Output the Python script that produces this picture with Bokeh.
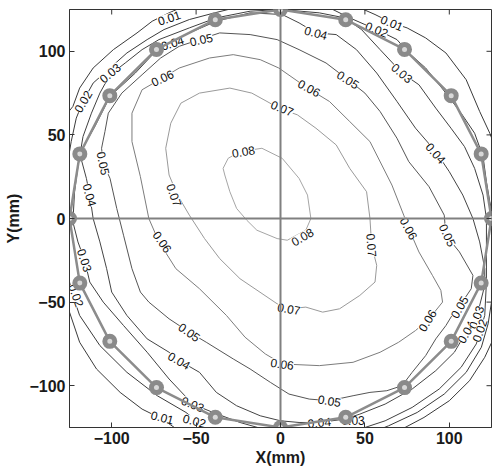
import math
from bokeh.plotting import figure
from bokeh.models import Range1d, FixedTicker
from bokeh.core.properties import value
from bokeh.embed import file_html
from bokeh.resources import INLINE

# ---------------- data ----------------
axis_min, axis_max = -125, 125
x_ticks = [-100, -50, 0, 50, 100]
y_ticks = [-100, -50, 0, 50, 100]

probe_radius = 125
probe_angles_deg = [0, 18, 36, 54, 72, 90, 108, 126, 144, 162,
                    180, 198, 216, 234, 252, 270, 288, 306, 324, 342]

# contour lines (x, y in mm)
c008 = [(-11, 42), (1, 36), (11, 24), (16, 14), (18, 0), (15, -7), (4, -13), (-2, -12),
        (-14, -7), (-20, -1), (-26, 6), (-30, 16), (-33, 26), (-34, 30), (-31, 36),
        (-24, 40), (-11, 42)]
c007 = [(54, -16), (57, -28), (56, -38), (47, -46), (35, -54), (25, -56), (15, -53),
        (5, -54), (-2, -51), (-24, -36), (-36, -24), (-45, -12), (-54, 2), (-61, 14),
        (-66, 26), (-68, 42), (-65, 57), (-59, 69), (-48, 75), (-30, 78), (-17, 75),
        (-8, 70), (-1, 66), (10, 62), (21, 54), (33, 44), (41, 30), (51, 16), (53, 0),
        (54, -16)]
c006 = [(-42, 96), (-28, 98), (-12, 95), (-1, 90), (16, 78), (29, 70), (41, 58), (53, 46),
        (66, 20), (73, 2), (76, -6), (82, -20), (90, -34), (95, -43), (96, -50), (88, -60),
        (80, -67), (70, -74), (59, -80), (43, -86), (23, -88), (1, -87), (-9, -81),
        (-21, -71), (-32, -58), (-48, -42), (-62, -30), (-72, -14), (-78, 0), (-83, 25),
        (-88, 46), (-88, 63), (-82, 77), (-70, 84), (-60, 90), (-42, 96)]
c005 = [(-48, 107), (-36, 111), (-18, 110), (-2, 107), (11, 101), (27, 93), (40, 83),
        (50, 75), (59, 64), (69, 48), (76, 34), (88, 19), (97, 2), (98, -10), (106, -20),
        (114, -34), (113, -42), (109, -48), (104, -54), (98, -64), (92, -72), (86, -82),
        (78, -92), (72, -100), (63, -103), (53, -104), (43, -106), (29, -109), (17, -108),
        (5, -105), (-6, -98), (-18, -90), (-28, -84), (-44, -74), (-54, -68), (-66, -60),
        (-78, -50), (-83, -44), (-88, -30), (-93, -10), (-97, 6), (-101, 24), (-105, 33),
        (-106, 42), (-104, 52), (-102, 63), (-94, 75), (-82, 86), (-71, 96), (-60, 103),
        (-48, 107)]
c004 = [(-119, 39), (-115, 24), (-113, 14), (-111, 0), (-107, -14), (-103, -30),
        (-100, -44), (-91, -58), (-79, -72), (-66, -80), (-60, -85), (-48, -92),
        (-38, -104), (-26, -112), (-12, -118), (0, -121), (11, -122), (23, -122),
        (38, -120), (47, -117), (62, -111), (78, -102), (92, -91), (103, -80), (110, -68),
        (117, -56), (121, -40), (121, -30), (118, -14), (114, 0), (108, 14), (100, 28),
        (92, 40), (80, 54), (69, 70), (57, 87), (45, 101), (33, 110), (21, 111), (11, 117),
        (1, 122), (-18, 123), (-38, 118), (-54, 111), (-67, 105), (-73, 101), (-86, 87),
        (-101, 73), (-110, 55), (-119, 39)]
c003 = [(-10, -126), (-24, -122), (-40, -116), (-52, -111), (-66, -96), (-79, -80),
        (-93, -64), (-105, -50), (-113, -38), (-116, -25), (-120, -14), (-123, -2),
        (-122, 16), (-120, 31), (-117, 49), (-112, 63), (-107, 75), (-101, 86), (-92, 93),
        (-82, 101), (-72, 107), (-54, 114), (-38, 120), (-18, 124), (0, 125), (23, 123),
        (38, 120), (48, 113), (59, 101), (72, 87), (82, 80), (92, 66), (101, 54), (109, 43),
        (115, 30), (120, 14), (122, 0), (122, -20), (122, -38), (121, -58), (116, -75),
        (107, -89), (94, -102), (78, -113), (62, -121), (47, -126), (38, -128)]
c002_ul = [(-126, 34), (-124, 46), (-121, 60), (-117, 70), (-111, 81), (-101, 90),
           (-91, 99), (-79, 107), (-69, 113), (-54, 119), (-39, 123), (-27, 126)]
c002_ur = [(29, 126), (41, 120), (50, 116), (57, 113), (69, 107), (76, 99), (86, 90),
           (98, 75), (107, 63), (115, 51), (120, 37), (122, 22), (124, 10), (126, 1)]
c002_lr = [(126, -45), (125, -50), (123, -63), (119, -77), (110, -92), (97, -105),
           (81, -116), (64, -124), (54, -128)]
c002_ll = [(-126, -29), (-125, -38), (-123, -46), (-119, -58), (-107, -76), (-91, -92),
           (-73, -106), (-56, -116), (-51, -120), (-41, -128)]
c001_ul = [(-127, 62), (-123, 67), (-119, 78), (-111, 90), (-99, 101), (-85, 111),
           (-76, 118), (-66, 123), (-57, 127)]
c001_ur = [(47, 126), (56, 122), (66, 117), (75, 114), (86, 108), (98, 99), (110, 83),
           (118, 64), (124, 51), (127, 43)]
c001_lr = [(127, -70), (121, -83), (112, -97), (100, -109), (85, -119), (70, -127),
           (64, -130)]
c001_ll = [(-127, -50), (-125, -56), (-119, -74), (-109, -90), (-95, -104), (-82, -114),
           (-70, -120), (-60, -127)]

contour_levels = ["0.01", "0.02", "0.03", "0.04", "0.05", "0.06", "0.07", "0.08"]
contour_segments = {
    "0.01": [c001_ul, c001_ur, c001_lr, c001_ll],
    "0.02": [c002_ul, c002_ur, c002_lr, c002_ll],
    "0.03": [c003],
    "0.04": [c004],
    "0.05": [c005],
    "0.06": [c006],
    "0.07": [c007],
    "0.08": [c008],
}
level_colors = {"0.01": "#3a3a3a", "0.02": "#3a3a3a", "0.03": "#404040", "0.04": "#444444",
                "0.05": "#555555", "0.06": "#7c7c7c", "0.07": "#9a9a9a", "0.08": "#a6a6a6"}

# contour labels: text, x, y, angle (deg)
label_text = ["0.08", "0.08", "0.07", "0.07", "0.07", "0.07",
              "0.06", "0.06", "0.06", "0.06", "0.06", "0.06",
              "0.05", "0.05", "0.05", "0.05", "0.05", "0.05", "0.05",
              "0.04", "0.04", "0.04", "0.04", "0.04", "0.04", "0.04",
              "0.03", "0.03", "0.03", "0.03", "0.03", "0.03",
              "0.02", "0.02", "0.02", "0.02", "0.02",
              "0.01", "0.01", "0.01"]
label_x = [-22, 13, -63, 1, 54, 5,
           -70, 17, 76, 87, 1, -70,
           -47, 40, 99, 106, 29, -54, -105,
           -64, 21, 92, 110, 23, -60, -113,
           -101, 72, 116, 43, -52, -116,
           -117, 57, 118, -51, -121,
           -66, 66, -70]
label_y = [40, -11, 14, 66, -16, -54,
           84, 78, -6, -61, -87, -14,
           107, 83, -10, -53, -109, -68, 33,
           105, 111, 39, -68, -122, -85, 14,
           87, 87, -59, -121, -111, -25,
           70, 113, -67, -121, -46,
           120, 117, -119]
label_angle = [10, 30, -70, -22, -85, -10,
               25, -28, -62, 58, -8, -55,
               12, -32, -65, 60, -10, -35, -78,
               18, -15, -48, 60, 5, -30, -75,
               40, -40, 70, 0, -22, -72,
               60, -22, 70, -14, -70,
               18, -22, -14]

# ---------------- figure ----------------
FONT = "Liberation Sans"
p = figure(width=492, height=468, output_backend="svg", toolbar_location=None,
           x_range=Range1d(axis_min, axis_max), y_range=Range1d(axis_min, axis_max),
           min_border_left=69, min_border_right=1, min_border_top=9, min_border_bottom=41,
           background_fill_color="white", border_fill_color="white")
p.grid.visible = False
p.outline_line_color = "#333333"

for ax, lab, ticks in ((p.xaxis[0], "X(mm)", x_ticks), (p.yaxis[0], "Y(mm)", y_ticks)):
    ax.ticker = FixedTicker(ticks=ticks)
    ax.axis_label = lab
    ax.axis_label_text_font = FONT
    ax.axis_label_text_font_size = "16px"
    ax.axis_label_text_font_style = "bold"
    ax.axis_label_text_color = "#1a1a1a"
    ax.major_label_text_font = FONT
    ax.major_label_text_font_size = "16px"
    ax.major_label_text_font_style = "bold"
    ax.major_label_text_color = "#1a1a1a"
    ax.major_tick_in = 5
    ax.major_tick_out = 0
    ax.minor_tick_line_color = None
    ax.axis_line_color = "#333333"
    ax.major_tick_line_color = "#333333"
    ax.major_label_standoff = 4
p.xaxis[0].axis_label_standoff = 2
p.yaxis[0].axis_label_standoff = 4

# contour lines
for lvl in contour_levels:
    xs = [[pt[0] for pt in seg] for seg in contour_segments[lvl]]
    ys = [[pt[1] for pt in seg] for seg in contour_segments[lvl]]
    p.multi_line(xs, ys, line_color=level_colors[lvl], line_width=1)

# contour labels
p.text(x=label_x, y=label_y, text=label_text, angle=label_angle, angle_units="deg",
       text_font=value(FONT), text_font_size="12px", text_color="#111111",
       text_align="center", text_baseline="middle",
       background_fill_color="white", background_fill_alpha=1.0)

# crosshair through the origin
p.segment(x0=[axis_min, 0], y0=[0, axis_min], x1=[axis_max, 0], y1=[0, axis_max],
          line_color="#808080", line_width=2)

# probe positions and connecting polygon
px = [probe_radius * math.cos(math.radians(a)) for a in probe_angles_deg]
py = [probe_radius * math.sin(math.radians(a)) for a in probe_angles_deg]
p.line(px + px[:1], py + py[:1], line_color="#8c8c8c", line_width=2.5)
p.scatter(px, py, size=15, fill_color="#8a8a8a", line_color=None)
p.scatter(px, py, size=5, fill_color="#d8d8d8", line_color=None)

# inner ticks on the top and right edges of the box (half of each dash is clipped)
p.scatter(x=x_ticks, y=[axis_max] * len(x_ticks), marker="dash", size=10,
          angle=math.pi / 2, line_color="#333333", line_width=1)
p.scatter(x=[axis_max] * len(y_ticks), y=y_ticks, marker="dash", size=10,
          line_color="#333333", line_width=1)

open("out.html", "w").write(file_html(p, INLINE))
